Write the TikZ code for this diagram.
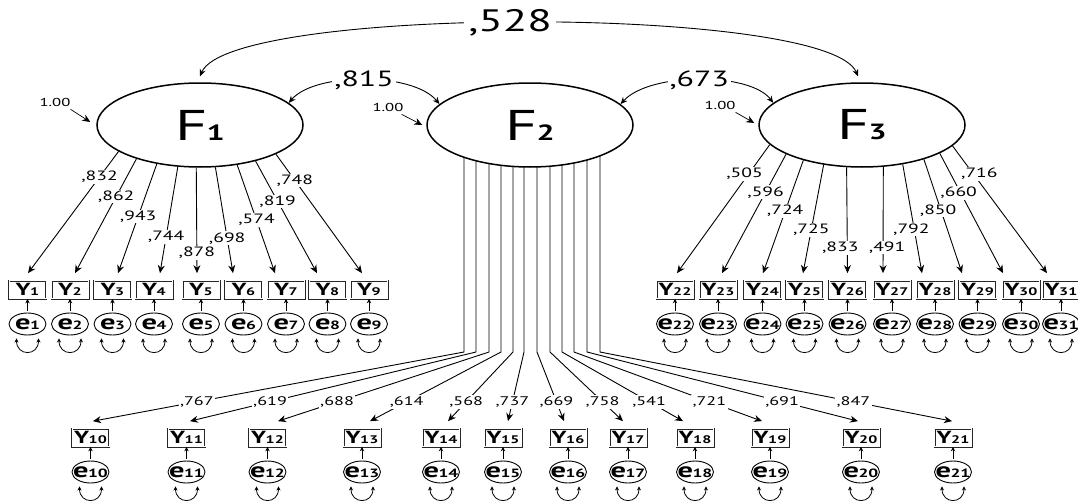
\documentclass[tikz,border=0pt]{standalone}
\usepackage{fontspec}
\setmainfont{PT Sans}[FakeStretch=1.45]
\usetikzlibrary{arrows.meta,shapes.geometric,backgrounds}
\newcommand{\fctlab}[1]{{\fontsize{43}{43}\selectfont F}\kern-1pt{\fontsize{22}{22}\selectfont\bfseries #1}}
\newcommand{\obslab}[1]{\makebox[0pt]{\bfseries{\fontsize{17.5}{16}\selectfont Y}\kern-0.5pt{\fontsize{11}{10}\selectfont #1}}}
\newcommand{\errlab}[1]{\makebox[0pt]{\bfseries{\fontsize{21}{16}\selectfont e}\kern-0.5pt{\fontsize{12}{12}\selectfont #1}}}
\tikzset{
  fac/.style={ellipse, draw, fill=white, line width=1.5pt, minimum width=206pt, minimum height=84pt, inner sep=0pt},
  obs/.style={rectangle, draw=black!85, double, double distance=0.6pt, line width=0.7pt, minimum width=37pt, minimum height=18pt, inner sep=0pt},
  err/.style={ellipse, draw, line width=0.9pt, minimum width=37pt, minimum height=22pt, inner sep=0pt},
  load/.style={-{Stealth[length=8pt,width=7pt]}, line width=0.9pt},
  cor/.style={{Stealth[length=7pt,width=6pt]}-{Stealth[length=7pt,width=6pt]}, line width=0.9pt},
  small/.style={-{Stealth[length=4.5pt,width=4.5pt]}, line width=0.8pt, shorten <=2pt},
  var/.style={{Stealth[length=4pt,width=4pt]}-{Stealth[length=4pt,width=4pt]}, line width=0.8pt},
  lab/.style={fill=white, inner sep=1pt, font=\fontsize{13.5}{15}\selectfont},
  labb/.style={fill=white, inner sep=1.5pt, font=\fontsize{12.5}{14}\selectfont},
  one/.style={inner sep=0pt, font=\fontsize{11.5}{12}\selectfont},
}
\begin{document}
\begin{tikzpicture}[x=1pt,y=-1pt]
\useasboundingbox (0,0) rectangle (1078,503);

% factors
\node[fac] (F1) at (200,125) {\fctlab{1}};
\node[fac] (F2) at (530,125) {\fctlab{2}};
\node[fac] (F3) at (862,125) {\fctlab{3}};

% observed variables and errors
\foreach \n/\x in {1/27.5,2/70,3/112.5,4/154,5/201,6/243.5,7/286,8/327.5,9/369,
                   22/675,23/718,24/762.5,25/804.5,26/847.5,27/892,28/935,29/977.5,30/1021,31/1061}{
  \node[obs] (Y\n) at (\x,289.5) {\obslab{\n}};
  \node[err] (e\n) at (\x,324) {\errlab{\n}};
}
\foreach \n/\x in {10/90.5,11/186.5,12/267.5,13/362,14/441,15/503,16/568,17/628,18/695,19/770,20/861,21/953}{
  \node[obs] (Y\n) at (\x,437.5) {\obslab{\n}};
  \node[err] (e\n) at (\x,472) {\errlab{\n}};
}

% error arrows and variances
\foreach \n in {1,...,31}{
  \draw[small] (e\n.north) -- (Y\n.south);
  \draw[var] ([xshift=-11pt,yshift=-3pt]e\n.south) to[out=-90,in=-90,looseness=2.1] ([xshift=11pt,yshift=-3pt]e\n.south);
}

% loadings F1
\foreach \n/\a/\dx/\p/\v in {1/-162/0.5/.21/832, 2/-152/5/.33/862, 3/-138/5.5/.48/943, 4/-118/6/.66/744,
    5/-95/-4/.81/878, 6/-70/-10.5/.67/698, 7/-47/-11/.51/574, 8/-33/-10.5/.36/819, 9/-21/-7/.22/748}{
  \draw[load] (F1.\a) -- node[lab,pos=\p]{,\v} ([xshift=\dx pt,yshift=7pt]Y\n.north);
}

% loadings F3
\foreach \n/\a/\dx/\p/\lx/\v in {22/-168/2/.23/-4/505, 23/-159/4/.32/0/596, 24/-149/0.5/.45/0/724, 25/-134/-1.5/.6/0/725,
    26/-110/0/.76/-7/833, 27/-63/-9/.76/4/491, 28/-44/-13/.6/-3/792, 29/-29/-15.5/.45/-3/850, 30/-20/-18/.33/-2/660, 31/-13/-14/.22/6/716}{
  \draw[load] (F3.\a) -- node[lab,pos=\p,xshift=\lx pt]{,\v} ([xshift=\dx pt,yshift=7pt]Y\n.north);
}

% loadings F2 (behind the ellipse)
\begin{pgfonlayer}{background}
\fill[white] (0,0) rectangle (1078,503);
\foreach \n/\sx/\dx/\v in {10/-66/2.5/767, 11/-54/3.5/619, 12/-41/10.5/688, 13/-29/8/614, 14/-17/7/568, 15/-6/5/737,
    16/7/-4/669, 17/20/-5/758, 18/32/-12/541, 19/44/-8/721, 20/57/-3/691, 21/70/-1/847}{
  \draw[load] ([xshift=\sx pt]F2.center) -- ++(0,227) -- node[labb,pos=.72]{,\v} ([xshift=\dx pt,yshift=7pt]Y\n.north);
}
\end{pgfonlayer}

% correlations
\draw[cor] ([yshift=6pt]F1.north) .. controls (230,5) and (828,5) .. node[pos=.48,fill=white,inner sep=4pt,font=\fontsize{31}{31}\selectfont]{,528} ([xshift=-4pt,yshift=6pt]F3.north);
\draw[cor] (F1.14) .. controls (315,72) and (413,72) .. node[fill=white,inner sep=2pt,font=\fontsize{22}{22}\selectfont]{,815} (F2.167);
\draw[cor] (F2.13) .. controls (650,72) and (750,72) .. node[fill=white,inner sep=2pt,font=\fontsize{22}{22}\selectfont]{,673} (F3.166);

% factor variances
\node[one] (v1) at (55,102) {1.00};
\node[one] (v2) at (388,107) {1.00};
\node[one] (v3) at (720,105) {1.00};
\draw[load,line width=0.7pt] ([yshift=-3pt]v1.south east) -- ([xshift=-6pt,yshift=3pt]F1.west);
\draw[load,line width=0.7pt] ([xshift=-2pt,yshift=-3pt]v2.south east) -- ([xshift=-4pt]F2.west);
\draw[load,line width=0.7pt] ([yshift=-3pt]v3.south east) -- ([xshift=-4pt,yshift=2pt]F3.west);
\end{tikzpicture}
\end{document}
